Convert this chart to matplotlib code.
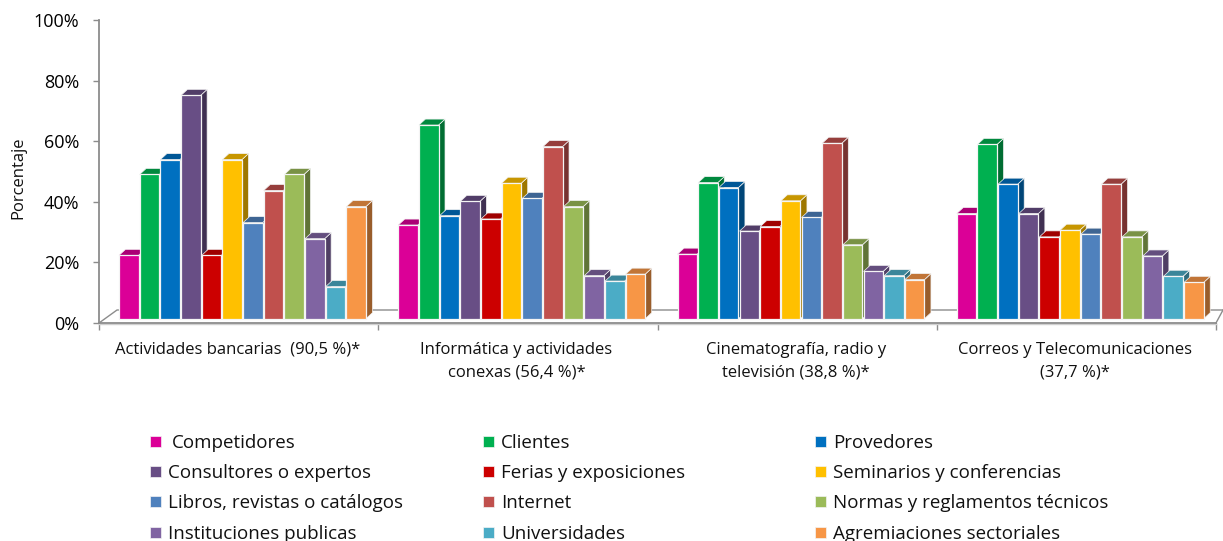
import matplotlib
matplotlib.use("Agg")
import matplotlib.pyplot as plt
from matplotlib.patches import Polygon, Rectangle
from matplotlib.colors import to_rgb

plt.rcParams['font.family'] = ['Open Sans', 'DejaVu Sans']

categories = ["Actividades bancarias  (90,5 %)*",
              "Informática y actividades\nconexas (56,4 %)*",
              "Cinematografía, radio y\ntelevisión (38,8 %)*",
              "Correos y Telecomunicaciones\n(37,7 %)*"]
series = ["Competidores", "Clientes", "Provedores",
          "Consultores o expertos", "Ferias y exposiciones", "Seminarios y conferencias",
          "Libros, revistas o catálogos", "Internet", "Normas y reglamentos técnicos",
          "Instituciones publicas", "Universidades", "Agremiaciones sectoriales"]
colors = ["#DB0097", "#00B050", "#0070C0", "#684E85", "#CC0000", "#FFC000",
          "#4F81BD", "#C0504D", "#9BBB59", "#8064A2", "#4BACC6", "#F79646"]
group1 = [20.9, 47.6, 52.5, 73.7, 20.9, 52.5, 31.7, 42.3, 47.6, 26.4, 10.6, 37.0]
group2 = [30.9, 63.9, 34.0, 38.7, 32.9, 44.7, 39.7, 56.8, 37.0, 14.2, 12.4, 14.7]
group3 = [21.3, 44.9, 43.3, 28.9, 30.4, 38.9, 33.4, 57.9, 24.4, 15.6, 14.2, 12.9]
group4 = [34.7, 57.5, 44.4, 34.7, 27.0, 29.2, 27.9, 44.4, 27.0, 20.7, 14.0, 12.0]
groups = [group1, group2, group3, group4]
yticks = [0, 20, 40, 60, 80, 100]
ytick_labels = ["0%", "20%", "40%", "60%", "80%", "100%"]

W, H = 1223, 541
fig = plt.figure(figsize=(W / 100, H / 100), dpi=100, facecolor="white")
L, R, T, B = 99, 1216, 20, 323
ax = fig.add_axes([L / W, 1 - B / H, (R - L) / W, (B - T) / H])
ax.set_xlim(0, len(categories))
ax.set_ylim(0, 100)
px_x = len(categories) / (R - L)
px_y = 100 / (B - T)

GRAY = "#8C8C8C"
for s in ("top", "right"):
    ax.spines[s].set_visible(False)
for s in ("left", "bottom"):
    ax.spines[s].set_color(GRAY)
    ax.spines[s].set_linewidth(1.3)

# floor
dep_x, dep_y = 18 * px_x, 13 * px_y
ax.plot([0, dep_x, 4 + 7 * px_x], [0, dep_y, dep_y], color=GRAY, lw=1.0, clip_on=False, zorder=1)
ax.plot([4, 4 + 7 * px_x], [0, dep_y], color=GRAY, lw=1.0, clip_on=False, zorder=1)
ax.plot([0, 4], [-1.2 * px_y, -1.2 * px_y], color="#D0D0D0", lw=1.0, clip_on=False, zorder=1)

# bars
pitch = 20.67 * px_x
width = 19.6 * px_x
start = 20 * px_x
base = 4.3 * px_y
dx, dy = 6.5 * px_x, 6 * px_y


def shade(c, f):
    return tuple(v * f for v in to_rgb(c))


z = 3
for g, vals in enumerate(groups):
    for i, v in enumerate(vals):
        x = g + start + i * pitch
        top = base + v
        ax.add_patch(Polygon([(x + width, base), (x + width + dx, base + dy),
                              (x + width + dx, top + dy), (x + width, top)],
                             facecolor=shade(colors[i], 0.62), edgecolor="#F2F2F2", lw=0.5,
                             clip_on=False, zorder=z))
        ax.add_patch(Polygon([(x, top), (x + width, top),
                              (x + width + dx, top + dy), (x + dx, top + dy)],
                             facecolor=shade(colors[i], 0.78), edgecolor="#F2F2F2", lw=0.5,
                             clip_on=False, zorder=z))
        ax.bar(x, v, width=width, bottom=base, align="edge", color=colors[i],
               edgecolor="#F4F4F4", linewidth=0.9, clip_on=False, zorder=z + 0.5)
        z += 1

ax.set_yticks(yticks, ytick_labels)
ax.set_xticks(range(len(categories) + 1), [""] * (len(categories) + 1))
ax.tick_params(axis="y", length=4.3, width=1.0, color=GRAY, pad=10, labelsize=13)
ax.tick_params(axis="x", length=5, width=1.0, color=GRAY)
ax.set_axisbelow(True)

for i, c in enumerate(categories):
    ax.annotate(c, xy=(i + 0.5, 0), xycoords="data", xytext=(-1, -13.5), textcoords="offset points",
                ha="center", va="top", fontsize=12, linespacing=1.58, color="#111111")

fig.text(18 / W, 1 - 177.5 / H, "Porcentaje", rotation=90, ha="center", va="center",
         fontsize=12, color="#111111")

# legend
col_x = [150, 483, 815]
row_y = [441, 471, 501, 532]
for k, name in enumerate(series):
    c, r = k % 3, k // 3
    x0, y0 = col_x[c], row_y[r]
    fig.add_artist(Rectangle(((x0) / W, 1 - (y0 + 5.5) / H), 11 / W, 11 / H,
                             transform=fig.transFigure, facecolor=colors[k], edgecolor="#F4F4F4", lw=0.5))
    offs = 22 if k == 0 else 18
    fig.text((x0 + offs) / W, 1 - y0 / H, name, ha="left", va="center_baseline", fontsize=13.5,
             color="#111111")

fig.savefig("out.png", dpi=100)
